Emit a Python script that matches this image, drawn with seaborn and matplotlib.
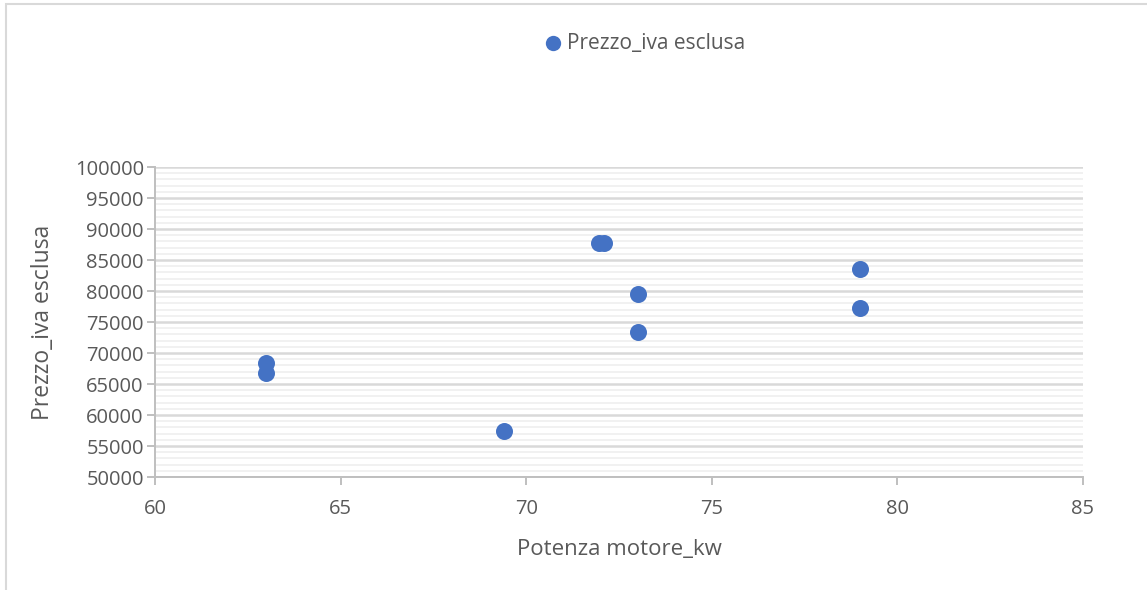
import matplotlib
matplotlib.use('Agg')

from matplotlib import pyplot as plt
from matplotlib.ticker import MultipleLocator
from matplotlib.patches import Rectangle
import pandas as pd
import seaborn as sns


POTENZA_KW = [63, 63, 69.4, 71.95, 72.1, 73, 73, 79, 79]
PREZZO = [68400, 66800, 57400, 87700, 87700, 79600, 73400, 83500, 77300]

SERIES_NAME = 'Prezzo_iva esclusa'
X_LABEL = 'Potenza motore_kw'
Y_LABEL = 'Prezzo_iva esclusa'

BLUE = '#4472C4'
TEXT = '#595959'
GRID = '#d9d9d9'
MINOR_GRID = '#f0f0f0'


def create_figure(data):
    sns.set_theme(style='white')
    plt.rcParams['font.family'] = ['Open Sans', 'DejaVu Sans']

    fig = plt.figure(figsize=(11.47, 5.9), dpi=100)
    ax = fig.add_axes([0.1351, 0.1915, 0.8091, 0.5254])

    sns.scatterplot(data=data, x='x', y='y', ax=ax, color=BLUE, s=150,
                    edgecolor=BLUE, linewidth=0, label=SERIES_NAME,
                    zorder=3, legend=False)

    ax.set_xlim(60, 85)
    ax.set_ylim(50000, 100000)
    ax.xaxis.set_major_locator(MultipleLocator(5))
    ax.yaxis.set_major_locator(MultipleLocator(5000))
    ax.yaxis.set_minor_locator(MultipleLocator(1000))

    ax.grid(False)
    ax.yaxis.grid(True, which='major', color=GRID, linewidth=1.8, zorder=1)
    ax.yaxis.grid(True, which='minor', color=MINOR_GRID, linewidth=1.3, zorder=0)
    ax.set_axisbelow(True)

    for side in ['top', 'right']:
        ax.spines[side].set_visible(False)
    for side in ['left', 'bottom']:
        ax.spines[side].set_color('#bfbfbf')
        ax.spines[side].set_linewidth(1.4)

    ax.tick_params(axis='both', which='major', direction='out', length=6,
                   width=1.4, color='#bfbfbf', labelsize=14.5,
                   labelcolor=TEXT, pad=2, left=True, bottom=True)
    ax.tick_params(axis='y', which='minor', length=0)
    ax.tick_params(axis='x', pad=10)

    ax.set_xlabel(X_LABEL, fontsize=16, color=TEXT, labelpad=14)
    ax.set_ylabel(Y_LABEL, fontsize=16.5, color=TEXT, labelpad=14)

    handles, labels = ax.get_legend_handles_labels()
    fig.legend(handles, labels, loc='center', bbox_to_anchor=(0.557, 0.927),
               frameon=False, fontsize=15, labelcolor=TEXT,
               handletextpad=-0.3, markerscale=0.9)

    # chart area frame
    fig.patches.append(Rectangle((0.005, -0.1), 1.2, 1.093, transform=fig.transFigure,
                                 fill=False, edgecolor='#d9d9d9', linewidth=1.5))
    return fig


data = pd.DataFrame({'x': POTENZA_KW, 'y': PREZZO})
fig = create_figure(data)
fig.savefig('out.png', dpi=100)
